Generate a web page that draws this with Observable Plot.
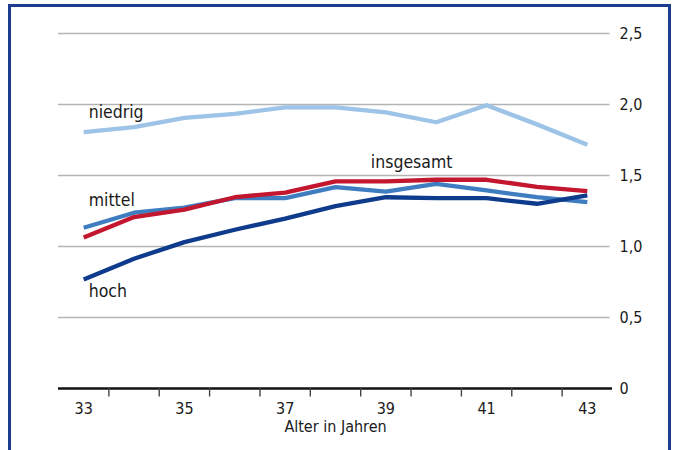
<!DOCTYPE html>
<html>
<head>
<meta charset="utf-8">
<script src="https://cdn.jsdelivr.net/npm/d3@7"></script>
<script src="https://cdn.jsdelivr.net/npm/@observablehq/plot@0.6"></script>
<style>
  html, body { margin: 0; padding: 0; background: #fff; }
  #wrap { position: relative; width: 673px; height: 450px; overflow: hidden; }
  #frame { position: absolute; left: 8px; top: 4px; width: 657px; height: 446px;
           border: 3px solid #1e3d8f; border-bottom: 2px solid #8ea6cf; box-sizing: content-box; pointer-events: none; }
  svg { font-family: "DejaVu Sans Condensed", "DejaVu Sans", sans-serif; }
</style>
</head>
<body>
<div id="wrap"><div id="frame"></div></div>
<script>
const ages = [33, 34, 35, 36, 37, 38, 39, 40, 41, 42, 43];
const niedrig   = [1.805, 1.84, 1.906, 1.934, 1.98, 1.98, 1.945, 1.875, 1.995, 1.86, 1.716];
const mittel    = [1.132, 1.238, 1.273, 1.34, 1.34, 1.418, 1.387, 1.441, 1.395, 1.347, 1.312];
const hoch      = [0.767, 0.914, 1.031, 1.118, 1.196, 1.284, 1.347, 1.34, 1.34, 1.301, 1.36];
const insgesamt = [1.064, 1.207, 1.26, 1.347, 1.38, 1.459, 1.459, 1.47, 1.47, 1.42, 1.39];
const xTickLabels = [33, 35, 37, 39, 41, 43];
const xTickMarks = [33.5, 34.5, 35.5, 36.5, 37.5, 38.5, 39.5, 40.5, 41.5, 42.5];
const yTicks = [0, 0.5, 1, 1.5, 2, 2.5];
const xTitle = "Alter in Jahren";

const seriesDefs = [
  {name: "niedrig", values: niedrig, color: "#9dc3e6", lx: 33, dx: 5, dy: -20, anchor: "start"},
  {name: "mittel", values: mittel, color: "#3f7dc1", lx: 33, dx: 5, dy: -27, anchor: "start"},
  {name: "insgesamt", values: insgesamt, color: "#c3162f", lx: 39, dx: -15, dy: -19, anchor: "start"},
  {name: "hoch", values: hoch, color: "#0f3b8c", lx: 33, dx: 5, dy: 12, anchor: "start"}
];
const rows = seriesDefs.flatMap(s => ages.map((a, i) => ({series: s.name, age: a, value: s.values[i]})));
const fmt = v => v === 0 ? "0" : d3.format(".1f")(v).replace(".", ",");

const lineMarks = seriesDefs.map(s =>
  Plot.line(rows.filter(r => r.series === s.name), {x: "age", y: "value", stroke: s.color, strokeWidth: 4.3, strokeLinejoin: "round", strokeLinecap: "butt"})
);
const labelMarks = seriesDefs.map(s => {
  const i = ages.indexOf(s.lx);
  return Plot.text([{age: s.lx, value: s.values[i], t: s.name}], {x: "age", y: "value", text: "t", dx: s.dx, dy: s.dy, textAnchor: s.anchor, fontSize: 17.5, fill: "#1a1a1a"});
});

const chart = Plot.plot({
  width: 673,
  height: 450,
  marginLeft: 58,
  marginRight: 61,
  marginTop: 33,
  marginBottom: 62,
  x: {type: "linear", domain: [32.5, 43.5], axis: null},
  y: {type: "linear", domain: [0, 2.5], axis: null},
  marks: [
    Plot.ruleY(yTicks.filter(v => v > 0), {y: d => d, x1: 32.5, x2: 43.45, stroke: "#b4b4b4", strokeWidth: 1.6}),
    ...lineMarks,
    Plot.ruleY([0], {y: d => d, stroke: "#111", strokeWidth: 2.6}),
    Plot.ruleX(xTickMarks, {x: d => d, y1: 0, y2: -0.06, stroke: "#444", strokeWidth: 1.4}),
    Plot.text(yTicks, {x: 43.5, y: d => d, text: fmt, dx: 7, textAnchor: "start", fontSize: 16, fill: "#1a1a1a", fontWeight: d => d === 0 ? "bold" : "normal"}),
    Plot.text(xTickLabels, {x: d => d, y: 0, text: d => String(d), dy: 20, fontSize: 16, fill: "#1a1a1a"}),
    Plot.text([xTitle], {x: 38, y: 0, text: d => d, dy: 38, fontSize: 16, fill: "#1a1a1a"}),
    ...labelMarks
  ]
});
document.getElementById("wrap").insertBefore(chart, document.getElementById("frame"));
</script>
</body>
</html>
